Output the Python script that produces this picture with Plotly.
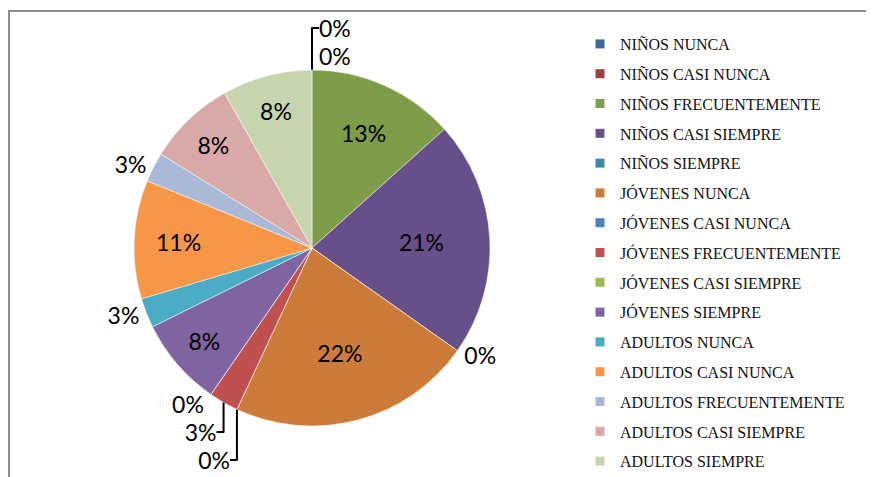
import plotly.graph_objects as go

labels = ["NIÑOS NUNCA", "NIÑOS CASI NUNCA", "NIÑOS FRECUENTEMENTE", "NIÑOS CASI SIEMPRE",
          "NIÑOS SIEMPRE", "JÓVENES NUNCA", "JÓVENES CASI NUNCA", "JÓVENES FRECUENTEMENTE",
          "JÓVENES CASI SIEMPRE", "JÓVENES SIEMPRE", "ADULTOS NUNCA", "ADULTOS CASI NUNCA",
          "ADULTOS FRECUENTEMENTE", "ADULTOS CASI SIEMPRE", "ADULTOS SIEMPRE"]
values = [0, 0, 13.4, 21.5, 0, 22.2, 0, 2.7, 0, 8.1, 2.7, 10.8, 2.7, 8.0, 8.2]
colors = ["#3C6A9E", "#9E413E", "#7E9D48", "#67508A", "#3A8EA6", "#CD7B38",
          "#4F81BD", "#C0504D", "#9BBB59", "#8064A2", "#4BACC6", "#F79646",
          "#AAB9D8", "#D9A9A8", "#C6D5AE"]
positions = ["outside" if v < 5 else "inside" for v in values]

# page body has an 8px margin; figure is sized to fill the rest of the window
OFF = 8
W, H = 874 - OFF, 477 - OFF
cx, cy, r = 312 - OFF, 248 - OFF, 178

fig = go.Figure()
fig.add_trace(go.Pie(
    labels=labels, values=values, sort=False, direction="clockwise", rotation=0,
    marker=dict(colors=colors, line=dict(color="white", width=0.5)),
    texttemplate="%{percent:.0%}", textposition=positions,
    insidetextorientation="horizontal",
    textfont=dict(family="Lato", size=23, color="black"),
    showlegend=False,
    domain=dict(x=[(cx - r) / W, (cx + r) / W], y=[(H - cy - r) / H, (H - cy + r) / H]),
))
for i, (lab, col) in enumerate(zip(labels, colors)):
    fig.add_trace(go.Scatter(
        x=[None], y=[None], mode="markers", name=lab, legendgroup=str(i),
        marker=dict(symbol="square", size=9, color=col),
    ))

fig.update_layout(
    width=W, height=H, margin=dict(l=0, r=0, t=0, b=0, autoexpand=False),
    paper_bgcolor="white", plot_bgcolor="white",
    xaxis=dict(visible=False), yaxis=dict(visible=False),
    legend=dict(x=(620 - OFF - 40) / W, xanchor="left", y=1 - (253 - OFF) / H, yanchor="middle",
                font=dict(family="Liberation Serif", size=16, color="#111111"),
                tracegroupgap=6, bgcolor="rgba(0,0,0,0)"),
    shapes=[dict(type="rect", xref="paper", yref="paper", x0=(8 - OFF + 1) / W, x1=1.05,
                 y0=-0.05, y1=1 - (10 - OFF + 1) / H, line=dict(color="#8c8c8c", width=2))],
)
fig.write_html("out.html")
